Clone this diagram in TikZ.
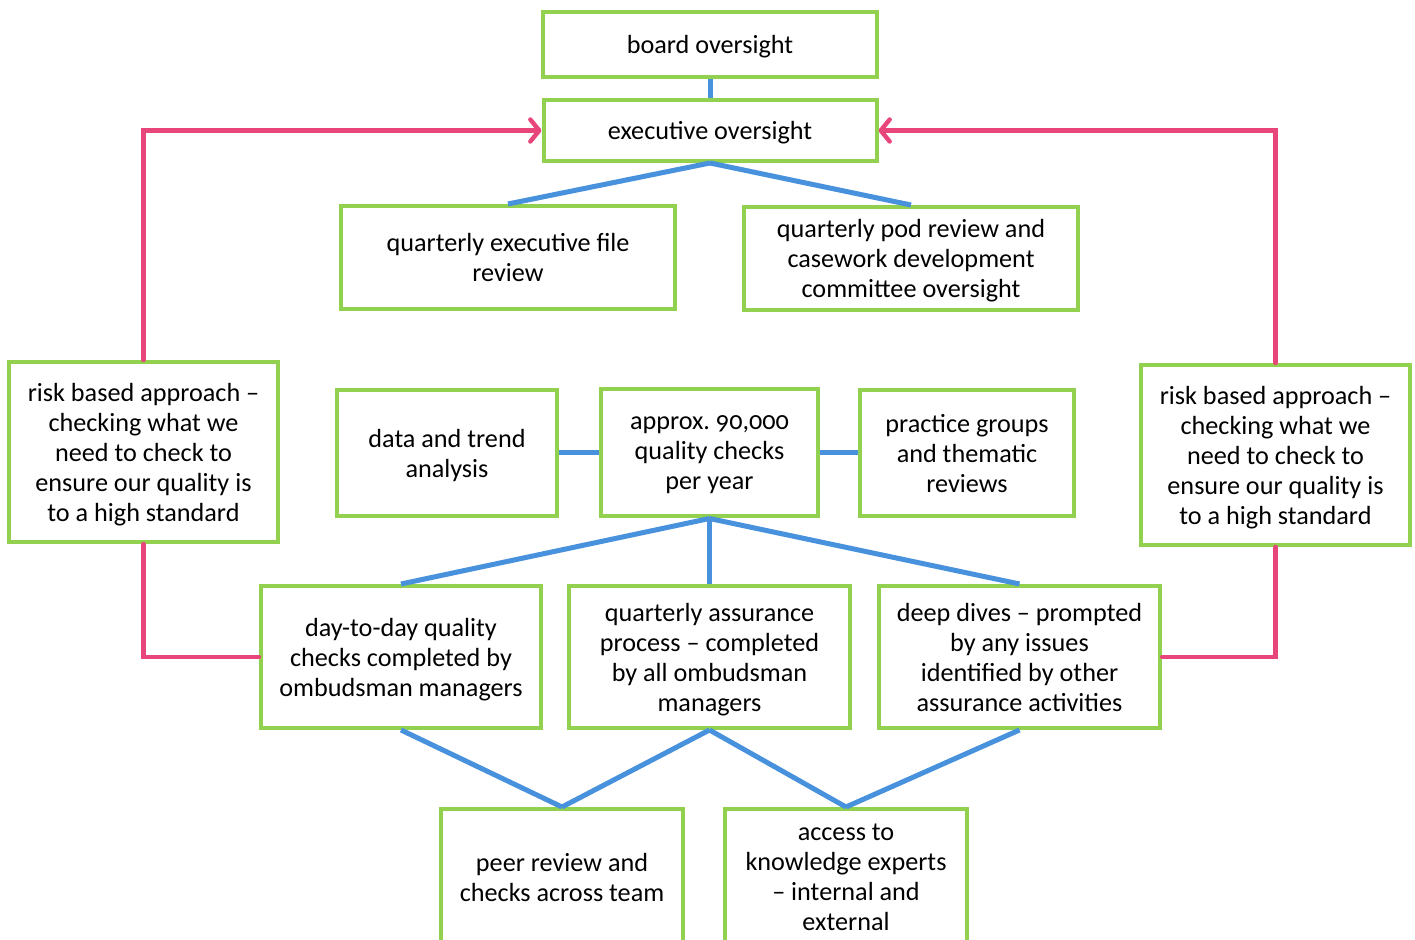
\documentclass[tikz,border=0pt]{standalone}
\usepackage{fontspec}
\setmainfont[Numbers=OldStyle]{Carlito}
\usepackage{tikz}
\usetikzlibrary{arrows.meta}
\definecolor{boxgreen}{RGB}{146, 208, 80}
\definecolor{linkblue}{RGB}{72, 145, 220}
\definecolor{loopred}{RGB}{232, 70, 122}
\tikzset{
  box/.style = {draw = boxgreen, line width = 2pt, fill = white, align = center,
    inner sep = 2pt, font = \fontsize{13.1}{15}\selectfont, text depth = 0pt},
  link/.style = {linkblue, line width = 2.5pt},
  loop/.style = {loopred, line width = 2.2pt, line cap = round,
    -{Straight Barb[length = 4.5pt, width = 11pt, round]}},
}

\begin{document}
\begin{tikzpicture}[x = 0.5pt, y = -0.5pt]
\clip (0,0) rectangle (1415,940);
\fill[white] (0,0) rectangle (1415,940);
% top
\node[box, minimum width = 167pt, minimum height = 32.5pt] (board) at (710, 44.5) {board oversight};
\node[box, minimum width = 166.5pt, minimum height = 30.5pt] (exec) at (710, 130.5) {executive oversight};
\node[box, minimum width = 167pt, minimum height = 51.5pt] (fileRev) at (508, 257.5) {quarterly executive file\\review};
\node[box, minimum width = 167pt, minimum height = 51.5pt] (podRev) at (911, 258.5) {quarterly pod review and\\casework development\\committee oversight};
% sides
\node[box, minimum width = 134.5pt, minimum height = 90pt] (riskL) at (143.5, 452) {risk based approach --\\checking what we\\need to check to\\ensure our quality is\\to a high standard};
\node[box, minimum width = 134.5pt, minimum height = 90pt] (riskR) at (1275.5, 455) {risk based approach --\\checking what we\\need to check to\\ensure our quality is\\to a high standard};
% middle row
\node[box, minimum width = 110pt, minimum height = 63pt] (trend) at (447, 453) {data and trend\\analysis};
\node[box, minimum width = 108.5pt, minimum height = 63.5pt] (checks) at (709.5, 453) {approx.\ 90,000\\quality checks\\per year};
\node[box, minimum width = 107pt, minimum height = 63pt] (practice) at (967, 453) {practice groups\\and thematic\\reviews};
% lower row
\node[box, minimum width = 140pt, minimum height = 71pt] (daily) at (401, 657) {day-to-day quality\\checks completed by\\ombudsman managers};
\node[box, minimum width = 140.5pt, minimum height = 71pt] (assure) at (709.5, 657) {quarterly assurance\\process -- completed\\by all ombudsman\\managers};
\node[box, minimum width = 140.5pt, minimum height = 71pt] (dives) at (1019.5, 657) {deep dives -- prompted\\by any issues\\identified by other\\assurance activities};
% bottom
\node[box, minimum width = 121pt, minimum height = 68pt] (peer) at (562, 877) {peer review and\\checks across team};
\node[box, minimum width = 121pt, minimum height = 68pt] (experts) at (846, 877) {access to\\knowledge experts\\-- internal and\\external};

% blue links
\draw[link] (board.south) -- (exec.north);
\draw[link] (exec.south) -- (fileRev.north);
\draw[link] (exec.south) -- (podRev.north);
\draw[link] (trend.east) -- (checks.west);
\draw[link] (checks.east) -- (practice.west);
\draw[link] (checks.south) -- (daily.north);
\draw[link] (checks.south) -- (assure.north);
\draw[link] (checks.south) -- (dives.north);
\draw[link] (daily.south) -- (peer.north);
\draw[link] (assure.south) -- (peer.north);
\draw[link] (assure.south) -- (experts.north);
\draw[link] (dives.south) -- (experts.north);

% red loops
\draw[loop] (riskL.north) |- (exec.west);
\draw[loop] (riskR.north) |- (exec.east);
\draw[loop, -] (riskL.south) |- (daily.west);
\draw[loop, -] (riskR.south) |- (dives.east);
\end{tikzpicture}
\end{document}
